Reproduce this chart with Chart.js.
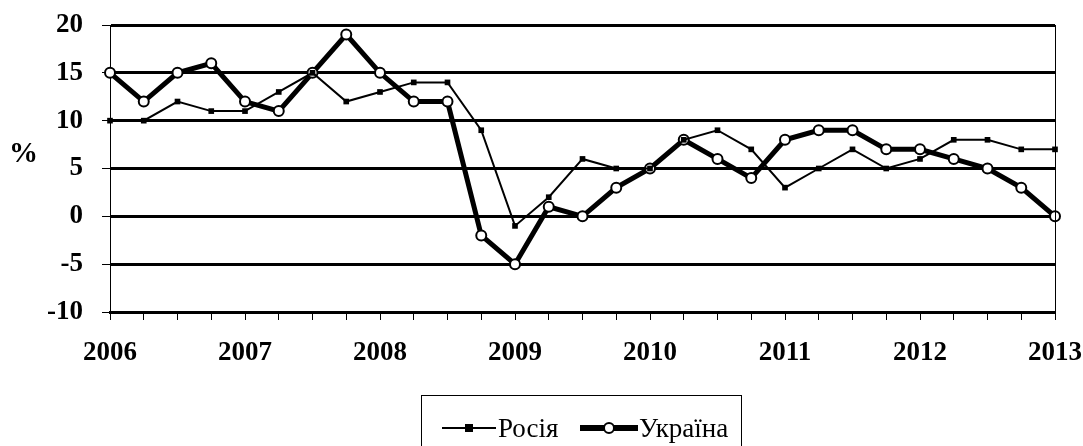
<!DOCTYPE html>
<html>
<head>
<meta charset="utf-8">
<script src="https://cdn.jsdelivr.net/npm/chart.js@4"></script>
<style>
  body { margin: 0; background: #fff; overflow: hidden; }
  #wrap { position: relative; width: 1083px; height: 446px; }
  #pct { position: absolute; left: 9px; top: 136px; font: bold 29px "Liberation Serif", serif; }
  #legend { position: absolute; left: 421px; top: 395px; width: 321px; height: 60px;
    border: 1px solid #000; box-sizing: border-box; font: 27px "Liberation Serif", serif; }
  .item { position: absolute; top: 17px; height: 30px; }
  .line { position: absolute; background: #000; }
  .mark { position: absolute; background: #000; }
  .label { position: absolute; top: 0; white-space: nowrap; line-height: 30px; }
</style>
</head>
<body>
<div id="wrap">
  <canvas id="chart" width="1083" height="446"></canvas>
  <div id="pct">%</div>
  <div id="legend">
    <div class="item" style="left:20px">
      <div class="line" style="left:0;top:14px;width:54px;height:2px"></div>
      <div class="mark" style="left:23px;top:11px;width:8px;height:8px"></div>
      <div class="label" style="left:56px">Росія</div>
    </div>
    <div class="item" style="left:158px">
      <div class="line" style="left:0;top:12px;width:58px;height:6px"></div>
      <div class="mark" style="left:23px;top:9px;width:8px;height:8px;border:2px solid #000;background:#fff;border-radius:50%"></div>
      <div class="label" style="left:59px">Україна</div>
    </div>
  </div>
</div>
<script>
// Years on the x axis (quarterly points between them)
const years = ['2006', '2007', '2008', '2009', '2010', '2011', '2012', '2013'];

// Quarterly values, %
const russia = [10, 10, 12, 11, 11, 13, 15, 12, 13, 14, 14, 9, -1, 2, 6, 5, 5, 8, 9, 7, 3, 5, 7, 5, 6, 8, 8, 7, 7];
const ukraine = [15, 12, 15, 16, 12, 11, 15, 19, 15, 12, 12, -2, -5, 1, 0, 3, 5, 8, 6, 4, 8, 9, 9, 7, 7, 6, 5, 3, 0];

const yMin = -10;
const yMax = 20;
const yStep = 5;

// One label per quarter, year text only at the start of each year
const labels = [];
years.forEach((y, i) => {
    labels.push(y);
    if (i < years.length - 1) labels.push('', '', '');
});

const serif = '"Liberation Serif", serif';

// Thin frame line on the right edge of the plot
const rightBorder = {
    id: 'rightBorder',
    afterDraw(chart) {
        const a = chart.chartArea;
        const c = chart.ctx;
        c.save();
        c.strokeStyle = '#000';
        c.lineWidth = 1;
        c.beginPath();
        c.moveTo(Math.round(a.right) + 0.5, a.top);
        c.lineTo(Math.round(a.right) + 0.5, a.bottom);
        c.stroke();
        c.restore();
    }
};

new Chart(document.getElementById('chart'), {
    type: 'line',
    data: {
        labels: labels,
        datasets: [
            {
                label: 'Україна',
                data: ukraine,
                borderColor: '#000',
                borderWidth: 5,
                pointStyle: 'circle',
                pointRadius: 5,
                pointBackgroundColor: '#fff',
                pointBorderColor: '#000',
                pointBorderWidth: 2,
                tension: 0,
                order: 2
            },
            {
                label: 'Росія',
                data: russia,
                borderColor: '#000',
                borderWidth: 2,
                pointStyle: 'rect',
                pointRadius: 4,
                pointBackgroundColor: '#000',
                pointBorderColor: '#000',
                pointBorderWidth: 0,
                tension: 0,
                order: 1
            }
        ]
    },
    options: {
        responsive: false,
        animation: false,
        layout: { padding: { left: 0, right: 28, top: 25, bottom: 84 } },
        plugins: {
            legend: { display: false },
            tooltip: { enabled: false }
        },
        scales: {
            x: {
                offset: false,
                afterFit: s => {
                    s.height = 50;
                    s.paddingLeft = 0;
                    s.paddingRight = 0;
                },
                grid: {
                    drawOnChartArea: false,
                    drawTicks: true,
                    tickLength: 8,
                    color: '#000',
                    lineWidth: 1
                },
                border: { display: true, color: '#000', width: 3 },
                ticks: {
                    autoSkip: false,
                    maxRotation: 0,
                    color: '#000',
                    padding: 17,
                    font: { family: serif, size: 27, weight: 'bold' }
                }
            },
            y: {
                min: yMin,
                max: yMax,
                afterFit: s => {
                    s.width = 110;
                    s.paddingTop = 0;
                    s.paddingBottom = 0;
                },
                grid: {
                    color: '#000',
                    lineWidth: 3,
                    tickLength: 8,
                    tickWidth: 1,
                    tickColor: '#000'
                },
                border: { display: true, color: '#000', width: 1 },
                ticks: {
                    stepSize: yStep,
                    color: '#000',
                    padding: 19,
                    font: { family: serif, size: 27, weight: 'bold' }
                }
            }
        }
    },
    plugins: [rightBorder]
});
</script>
</body>
</html>
